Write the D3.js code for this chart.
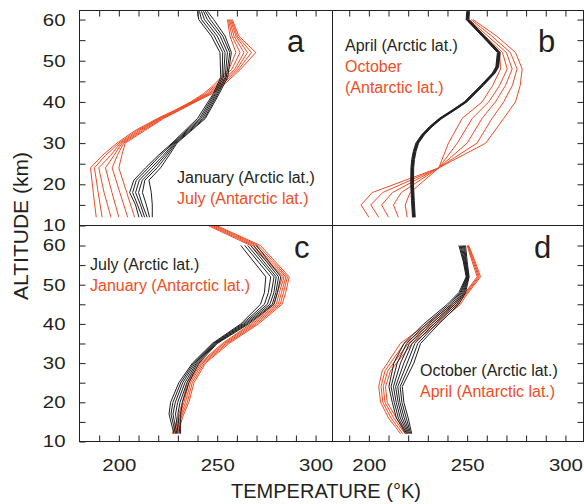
<!DOCTYPE html>
<html lang="en">
<head>
<meta charset="UTF-8">
<title>Temperature profiles</title>
<style>
  body { margin: 0; background: #fff; }
  svg { display: block; font-family: "Liberation Sans", Arial, sans-serif; }
</style>
</head>
<body>
<div id="wrapper"></div>
<script src="https://cdn.jsdelivr.net/npm/d3@7/dist/d3.min.js"></script>
<script>
// tick values
const tempTicks = [190, 200, 210, 220, 230, 240, 250, 260, 270, 280, 290, 300];
const tempLabels = [200, 250, 300];
const altTicks = [10, 15, 20, 25, 30, 35, 40, 45, 50, 55, 60];
const altLabels = [10, 20, 30, 40, 50, 60];

// panel a : one row per altitude, one column per profile
const altJanArctic = [12, 15, 18, 21, 24, 27, 30, 36, 42, 46, 52, 56, 60, 62];
const janArctic = [
  [210.2, 211.9, 213.1, 214.4, 215.6, 217.0],
  [208.5, 209.5, 211.0, 212.0, 214.0, 217.0],
  [205.5, 207.0, 208.5, 210.0, 212.0, 216.5],
  [207.6, 208.9, 210.4, 211.9, 213.2, 215.3],
  [213.6, 215.0, 216.5, 218.0, 219.5, 221.2],
  [220.0, 221.0, 222.5, 223.5, 224.5, 225.5],
  [227.0, 227.5, 228.0, 228.5, 229.0, 229.5],
  [240.0, 241.0, 241.8, 242.6, 243.4, 244.0],
  [248.0, 248.6, 249.2, 249.8, 250.4, 251.0],
  [251.8, 252.5, 253.2, 254.0, 254.6, 255.3],
  [251.4, 252.8, 254.0, 255.2, 256.4, 257.2],
  [247.0, 248.5, 250.0, 251.5, 252.8, 254.0],
  [240.6, 242.0, 243.5, 245.0, 246.5, 248.2],
  [240.0, 241.0, 242.0, 243.0, 244.0, 245.0]
];
const altJulAntarctic = [12, 18, 24, 27, 30, 33, 36, 38, 40, 42, 44, 48, 52, 56, 60];
const julAntarctic = [
  [188.5, 191.5, 196.0, 200.0, 204.5, 208.0],
  [187.0, 189.5, 192.5, 196.5, 200.5, 204.0],
  [185.6, 187.6, 189.8, 193.2, 196.6, 200.0],
  [191.6, 193.2, 195.8, 197.5, 199.2, 201.5],
  [199.0, 200.0, 200.8, 201.6, 202.4, 203.2],
  [208.0, 209.0, 210.0, 211.0, 212.0, 213.0],
  [219.7, 220.3, 221.0, 221.6, 222.2, 222.8],
  [228.5, 229.0, 229.5, 230.0, 230.5, 231.0],
  [236.5, 237.0, 237.5, 238.0, 238.5, 239.0],
  [243.0, 244.0, 245.0, 245.8, 246.5, 247.3],
  [248.0, 249.0, 250.0, 251.0, 252.0, 253.0],
  [256.0, 257.5, 259.0, 260.0, 261.0, 262.0],
  [259.5, 261.6, 263.6, 265.4, 267.4, 269.6],
  [256.5, 257.5, 258.5, 259.5, 260.2, 261.0],
  [255.2, 255.7, 256.2, 256.7, 257.2, 257.7]
];

// panel b
const altAprArctic = [12, 16, 20, 24, 26, 28, 30, 32, 34, 36, 38, 40, 44, 47, 48.5, 52, 56, 60, 62];
const aprArctic = [
  [222.2, 222.5, 222.8, 223.0, 223.3, 223.6],
  [221.7, 222.0, 222.3, 222.5, 222.8, 223.1],
  [221.3, 221.6, 221.9, 222.1, 222.4, 222.7],
  [221.4, 221.7, 222.0, 222.2, 222.5, 222.8],
  [221.8, 222.1, 222.4, 222.6, 222.9, 223.2],
  [222.6, 222.9, 223.2, 223.4, 223.7, 224.0],
  [223.9, 224.2, 224.5, 224.7, 225.0, 225.3],
  [226.8, 227.1, 227.4, 227.6, 227.9, 228.2],
  [230.8, 231.1, 231.4, 231.6, 231.9, 232.2],
  [235.8, 236.1, 236.4, 236.6, 236.9, 237.2],
  [242.3, 242.6, 242.9, 243.1, 243.4, 243.7],
  [248.5, 248.8, 249.1, 249.3, 249.6, 249.9],
  [256.9, 257.2, 257.5, 257.7, 258.0, 258.3],
  [262.8, 263.1, 263.4, 263.6, 263.9, 264.2],
  [264.6, 264.9, 265.2, 265.4, 265.7, 266.0],
  [265.4, 265.7, 266.0, 266.2, 266.5, 266.8],
  [257.5, 257.8, 258.1, 258.3, 258.6, 258.9],
  [249.5, 249.8, 250.1, 250.3, 250.6, 250.9],
  [249.8, 250.1, 250.4, 250.6, 250.9, 251.2]
];
const altOctAntarctic = [12, 15, 18, 24, 30, 36, 40, 44, 48, 52, 56, 60];
const octAntarctic = [
  [200.0, 205.0, 210.0, 215.0, 219.5],
  [196.0, 201.0, 206.5, 212.5, 218.5],
  [201.7, 207.0, 212.0, 216.5, 221.0],
  [235.6, 235.6, 235.6, 235.6, 235.6],
  [259.5, 255.0, 250.0, 245.0, 240.5],
  [268.6, 262.7, 257.6, 252.6, 247.5],
  [274.6, 268.6, 264.4, 261.0, 257.6],
  [277.0, 273.0, 269.5, 266.5, 263.0],
  [278.0, 275.4, 272.9, 270.4, 267.0],
  [274.6, 272.0, 270.0, 268.0, 266.5],
  [265.0, 262.5, 260.5, 259.0, 258.0],
  [253.0, 252.0, 251.0, 250.5, 250.0]
];

// panel c
const altJulArctic = [12, 17, 20, 25, 30, 35, 40, 45, 48, 52, 60];
const julArctic = [
  [228.0, 228.8, 229.5, 230.2, 231.0, 231.4],
  [225.5, 226.5, 227.5, 228.8, 230.0, 231.4],
  [226.3, 227.5, 228.7, 229.9, 231.1, 232.3],
  [230.5, 231.5, 232.5, 233.6, 234.6, 235.6],
  [237.4, 238.0, 238.7, 239.4, 240.0, 240.7],
  [247.5, 248.0, 248.5, 249.0, 249.5, 250.0],
  [262.0, 262.8, 263.6, 264.4, 265.2, 266.0],
  [272.0, 274.0, 275.5, 276.8, 278.0, 278.8],
  [274.0, 276.0, 277.5, 278.8, 279.8, 280.6],
  [274.7, 277.2, 278.9, 280.0, 281.2, 282.3],
  [262.0, 264.0, 265.5, 267.0, 268.5, 270.0]
];
const altJanAntarctic = [12, 17, 20, 25, 30, 35, 40, 45, 48, 52, 60, 65];
const janAntarctic = [
  [227.2, 227.8, 228.5, 229.1, 229.7],
  [230.5, 231.1, 231.7, 232.3, 233.0],
  [232.3, 233.1, 233.9, 234.8, 235.6],
  [234.8, 235.6, 236.4, 237.3, 238.2],
  [241.2, 241.9, 242.6, 243.4, 244.1],
  [252.6, 253.4, 254.3, 255.1, 256.0],
  [267.0, 268.0, 269.0, 270.0, 271.0],
  [279.0, 280.0, 281.0, 282.0, 283.0],
  [280.6, 281.6, 282.7, 283.7, 284.8],
  [283.2, 284.0, 284.9, 285.7, 286.6],
  [267.0, 268.2, 269.5, 270.8, 272.0],
  [245.7, 246.8, 248.0, 249.0, 250.0]
];

// panel d
const altOctArctic = [12, 16, 20, 24, 30, 35, 40, 45, 48, 52, 56, 60];
const octArctic = [
  [218.7, 219.2, 219.8, 220.3, 220.8, 221.3, 221.8],
  [214.0, 215.0, 216.0, 217.0, 218.0, 219.0, 220.0],
  [211.9, 212.9, 213.9, 214.9, 215.8, 216.8, 217.8],
  [210.2, 211.3, 212.5, 213.6, 214.7, 215.9, 217.0],
  [212.7, 214.4, 216.1, 217.8, 219.5, 221.2, 222.9],
  [217.8, 219.2, 220.6, 222.0, 223.4, 224.9, 226.3],
  [228.0, 229.3, 230.5, 231.8, 233.1, 234.3, 235.6],
  [239.9, 240.9, 241.9, 242.9, 243.8, 244.8, 245.8],
  [245.8, 246.4, 246.9, 247.5, 248.1, 248.6, 249.2],
  [249.5, 249.8, 250.0, 250.3, 250.5, 250.8, 251.0],
  [248.0, 248.3, 248.6, 249.0, 249.3, 249.6, 250.0],
  [245.8, 246.4, 246.9, 247.5, 248.1, 248.6, 249.2]
];
const altAprAntarctic = [12, 16, 20, 24, 28, 35, 40, 45, 47, 52, 56, 60];
const aprAntarctic = [
  [216.1, 217.2, 218.4, 219.5],
  [210.0, 211.3, 212.6, 214.0],
  [206.0, 207.1, 208.2, 209.3],
  [205.0, 206.2, 207.3, 208.5],
  [206.8, 208.2, 209.6, 211.0],
  [216.0, 218.0, 220.0, 222.0],
  [229.7, 231.5, 233.2, 235.0],
  [242.4, 243.8, 245.2, 246.6],
  [247.5, 248.0, 248.6, 249.2],
  [255.1, 255.7, 256.2, 256.8],
  [252.5, 253.0, 253.5, 254.0],
  [250.0, 250.3, 250.5, 250.8]
];

// legend texts
const legendA = ["January (Arctic lat.)", "July (Antarctic lat.)"];
const legendB = ["April (Arctic lat.)", "October", "(Antarctic lat.)"];
const legendC = ["July (Arctic lat.)", "January (Antarctic lat.)"];
const legendD = ["October (Arctic lat.)", "April (Antarctic lat.)"];

const black = "#1e1e1e";
const red = "#ef4c24";
const textColor = "#231f20";

const width = 584, height = 504;
const svg = d3.select("#wrapper").append("svg")
  .attr("width", width).attr("height", height);

// frame positions
const xL0 = 79.5, xMid = 332.5, xR1 = 583.5;
const yT0 = 10.5, yMid = 225.5, yB1 = 441.5;

const xLeft = d3.scaleLinear().domain([180, 308.6]).range([xL0, xMid]);
const xRight = d3.scaleLinear().domain([181.5, 309.2]).range([xMid, xR1]);
const yTop = d3.scaleLinear().domain([10, 62.2]).range([yMid, yT0]);
const yBottom = d3.scaleLinear().domain([10, 65.1]).range([yB1, yMid]);

const panels = [
  { x: xLeft, y: yTop, arctic: [altJanArctic, janArctic], antarctic: [altJulAntarctic, julAntarctic],
    letter: "a", lx: 287, ly: 52, legend: legendA, legX: 177, legY: 183, legColors: [textColor, red],
    axes: ["left", "top"] },
  { x: xRight, y: yTop, arctic: [altAprArctic, aprArctic], antarctic: [altOctAntarctic, octAntarctic],
    letter: "b", lx: 538, ly: 52, legend: legendB, legX: 345, legY: 51, legColors: [textColor, red, red],
    axes: ["top", "right"] },
  { x: xLeft, y: yBottom, arctic: [altJulArctic, julArctic], antarctic: [altJanAntarctic, janAntarctic],
    letter: "c", lx: 294, ly: 258, legend: legendC, legX: 90, legY: 270, legColors: [textColor, red],
    axes: ["left", "bottom"] },
  { x: xRight, y: yBottom, arctic: [altOctArctic, octArctic], antarctic: [altAprAntarctic, aprAntarctic],
    letter: "d", lx: 534, ly: 258, legend: legendD, legX: 420, legY: 376, legColors: [textColor, red],
    axes: ["bottom", "right"] }
];

const line = d3.line();
const stretch = 1.2; // tick labels in the figure are drawn a little wide

panels.forEach(p => {
  const g = svg.append("g");
  const [x0, x1] = p.x.range();
  const [y1, y0] = p.y.range();

  // axes with inward ticks
  p.axes.forEach(side => {
    let ax, pos;
    if (side === "left") {
      ax = d3.axisLeft(p.y).tickValues(altTicks)
        .tickFormat(d => altLabels.includes(d) ? d : "").tickPadding(14);
      pos = `translate(${x0},0)`;
    } else if (side === "right") {
      ax = d3.axisRight(p.y).tickValues(altTicks.filter(d => d > 10)).tickFormat("");
      pos = `translate(${x1},0)`;
    } else if (side === "top") {
      ax = d3.axisTop(p.x).tickValues(tempTicks).tickFormat("");
      pos = `translate(0,${y0})`;
    } else {
      ax = d3.axisBottom(p.x).tickValues(tempTicks)
        .tickFormat(d => tempLabels.includes(d) ? d : "").tickPadding(17);
      pos = `translate(0,${y1})`;
    }
    ax.tickSizeInner(-6).tickSizeOuter(0);
    const a = g.append("g").attr("transform", pos).call(ax);
    a.select(".domain").remove();
    a.selectAll("line").attr("stroke", textColor).attr("stroke-width", 1);
    a.selectAll("text").attr("font-size", 17).attr("fill", textColor)
      .attr("font-family", "'Liberation Sans', Arial, sans-serif")
      .attr("transform", function () {
        const tx = +d3.select(this).attr("x") || 0;
        return `translate(${tx},0) scale(${stretch},1) translate(${-tx},0)`;
      });
  });

  // profiles
  const drawGroup = ([alts, rows], color) => {
    d3.transpose(rows).forEach(temps => {
      g.append("path")
        .attr("d", line(temps.map((t, i) => [p.x(t), p.y(alts[i])])))
        .attr("fill", "none")
        .attr("stroke", color)
        .attr("stroke-width", 1);
    });
  };
  drawGroup(p.antarctic, red);
  drawGroup(p.arctic, black);

  // panel letter
  g.append("text").attr("x", p.lx).attr("y", p.ly)
    .attr("font-size", 31).attr("fill", textColor).text(p.letter);

  // legend
  p.legend.forEach((t, i) => {
    g.append("text").attr("x", p.legX).attr("y", p.legY + i * 21)
      .attr("font-size", 16).attr("fill", p.legColors[i]).text(t);
  });
});

// frame
const frame = svg.append("g").attr("stroke", textColor).attr("stroke-width", 1).attr("fill", "none");
frame.append("rect").attr("x", xL0).attr("y", yT0).attr("width", xR1 - xL0).attr("height", yB1 - yT0);
frame.append("line").attr("x1", xMid).attr("x2", xMid).attr("y1", yT0).attr("y2", yB1);
frame.append("line").attr("x1", xL0).attr("x2", xR1).attr("y1", yMid).attr("y2", yMid);

// axis titles
svg.append("text")
  .attr("transform", `translate(28,${(yT0 + yB1) / 2}) rotate(-90)`)
  .attr("text-anchor", "middle").attr("font-size", 21).attr("fill", textColor)
  .text("ALTITUDE (km)");
svg.append("text")
  .attr("x", 326).attr("y", 498)
  .attr("text-anchor", "middle").attr("font-size", 20).attr("fill", textColor)
  .text("TEMPERATURE (°K)");
</script>
</body>
</html>
